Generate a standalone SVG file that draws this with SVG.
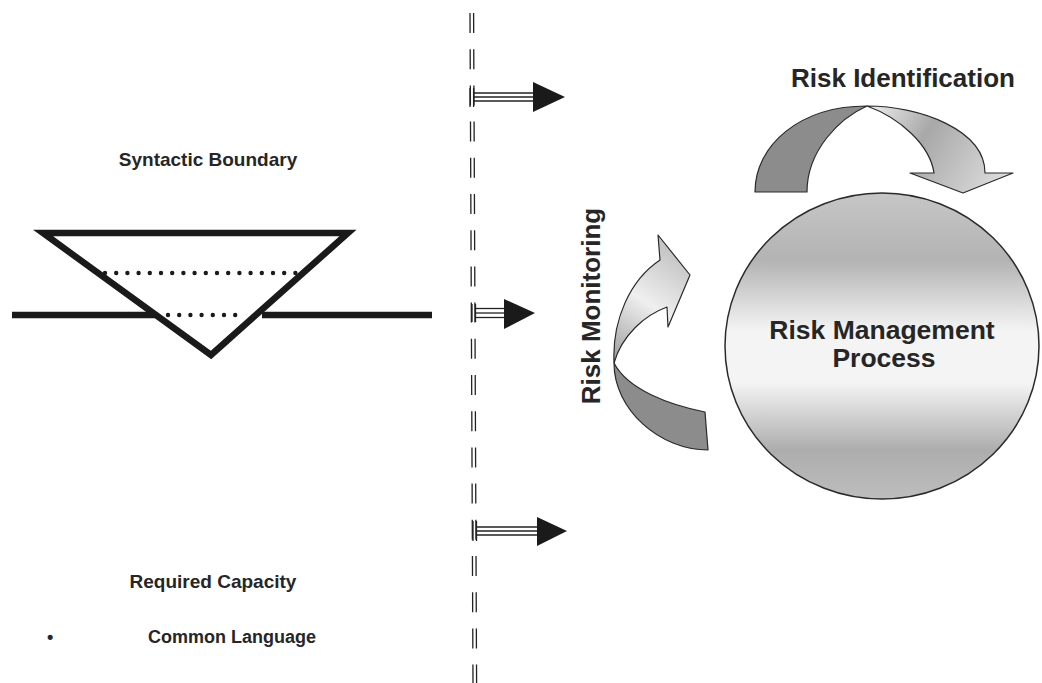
<svg xmlns="http://www.w3.org/2000/svg" width="1042" height="683" viewBox="0 0 1042 683">
  <style>
    .lbl { font-family: "Liberation Sans", Arial, Helvetica, sans-serif; font-weight: bold; fill: #262626; }
    .thick { fill: none; stroke: #1a1a1a; stroke-width: 6.5; }
    .dots { fill: none; stroke: #1a1a1a; stroke-width: 4.4; stroke-linecap: round; stroke-dasharray: 0 11.2; }
    .rail { fill: none; stroke: #222; stroke-width: 1.3; }
    .head { fill: #1a1a1a; stroke: none; }
    .ribbon { stroke: #2a2a2a; stroke-width: 1.2; stroke-linejoin: round; }
  </style>
  <defs>
    <linearGradient id="sphereFill" x1="0" y1="0" x2="0" y2="1">
      <stop offset="0" stop-color="#c6c6c6"/>
      <stop offset="0.22" stop-color="#b3b3b3"/>
      <stop offset="0.45" stop-color="#f4f4f4"/>
      <stop offset="0.62" stop-color="#f4f4f4"/>
      <stop offset="0.84" stop-color="#adadad"/>
      <stop offset="1" stop-color="#bdbdbd"/>
    </linearGradient>
    <linearGradient id="identLight" gradientUnits="userSpaceOnUse" x1="867" y1="106" x2="1005" y2="190">
      <stop offset="0" stop-color="#f0f0f0"/>
      <stop offset="0.4" stop-color="#a8a8a8"/>
      <stop offset="1" stop-color="#e0e0e0"/>
    </linearGradient>
    <linearGradient id="monitorLight" gradientUnits="userSpaceOnUse" x1="614" y1="363" x2="690" y2="250">
      <stop offset="0" stop-color="#9c9c9c"/>
      <stop offset="0.5" stop-color="#efefef"/>
      <stop offset="1" stop-color="#bcbcbc"/>
    </linearGradient>
  </defs>

  <rect width="1042" height="683" fill="#ffffff"/>

  <!-- left column: boundary symbol and captions -->
  <g id="syntactic-boundary">
    <text class="lbl" x="208" y="166" font-size="19" text-anchor="middle">Syntactic Boundary</text>
    <!-- ground line, interrupted inside the triangle -->
    <line class="thick" x1="12" y1="315" x2="155" y2="315"/>
    <line class="thick" x1="262" y1="315" x2="432" y2="315"/>
    <polygon class="thick" points="43,233 348,233 211,355" stroke-linejoin="miter"/>
    <line class="dots" x1="105" y1="273" x2="295.4" y2="273"/>
    <line class="dots" x1="168" y1="315" x2="246.4" y2="315"/>
  </g>

  <g id="required-capacity">
    <text class="lbl" x="213" y="588" font-size="19" text-anchor="middle">Required Capacity</text>
    <text class="lbl" x="47" y="643" font-size="18">•</text>
    <text class="lbl" x="148" y="643" font-size="18">Common Language</text>
  </g>

  <!-- divider and the three transfer arrows -->
  <g id="connectors">
    <g id="divider">
      <line class="rail" x1="470" y1="13" x2="473" y2="683" stroke-dasharray="20 16.2"/>
      <line class="rail" x1="473.6" y1="13" x2="476.6" y2="683" stroke-dasharray="20 16.2"/>
    </g>
    <g id="arrow-top">
      <line class="rail" x1="470" y1="88" x2="470" y2="107"/>
      <line class="rail" x1="473.6" y1="88" x2="473.6" y2="107"/>
      <line class="rail" x1="474" y1="93" x2="535" y2="93"/>
      <line class="rail" x1="474" y1="97" x2="535" y2="97"/>
      <line class="rail" x1="474" y1="101" x2="535" y2="101"/>
      <polygon class="head" points="533,82 565,97 533,112"/>
    </g>
    <g id="arrow-mid">
      <line class="rail" x1="472" y1="304" x2="472" y2="322"/>
      <line class="rail" x1="475.5" y1="304" x2="475.5" y2="322"/>
      <line class="rail" x1="476" y1="308.5" x2="505" y2="308.5"/>
      <line class="rail" x1="476" y1="313" x2="505" y2="313"/>
      <line class="rail" x1="476" y1="317.5" x2="505" y2="317.5"/>
      <polygon class="head" points="504,299 535,313 504,329"/>
    </g>
    <g id="arrow-bottom">
      <line class="rail" x1="473" y1="521" x2="473" y2="541"/>
      <line class="rail" x1="476.5" y1="521" x2="476.5" y2="541"/>
      <line class="rail" x1="477" y1="527" x2="538" y2="527"/>
      <line class="rail" x1="477" y1="531" x2="538" y2="531"/>
      <line class="rail" x1="477" y1="535" x2="538" y2="535"/>
      <polygon class="head" points="537,517 567,531 537,546"/>
    </g>
  </g>

  <!-- right side: process cycle -->
  <g id="risk-management-process">
    <ellipse cx="882" cy="346" rx="157" ry="153" fill="url(#sphereFill)" stroke="#2a2a2a" stroke-width="1.5"/>
    <text class="lbl" x="882" y="339" font-size="26.5" text-anchor="middle">Risk Management</text>
    <text class="lbl" x="884" y="367" font-size="26.5" text-anchor="middle">Process</text>
  </g>

  <g id="risk-identification">
    <text class="lbl" x="791" y="87" font-size="26">Risk Identification</text>
    <path class="ribbon" fill="#8c8c8c" d="M755,192 C755,145 800,106 867,106 C840,118 807,150 807,192 Z"/>
    <path class="ribbon" fill="url(#identLight)" d="M867,106 C920,106 985,130 985,173 L1013,173 L963,193 L910,173 L934,173 C930,145 900,118 867,106 Z"/>
  </g>

  <g id="risk-monitoring">
    <text class="lbl" transform="translate(600,306) rotate(-90)" font-size="26" text-anchor="middle">Risk Monitoring</text>
    <path class="ribbon" fill="#8c8c8c" d="M614,363 C614,410 660,450 708,450 L705,412 C670,405 628,390 614,363 Z"/>
    <path class="ribbon" fill="url(#monitorLight)" d="M614,363 C612,320 630,280 660,260 L658,235 L690,275 L668,327 L667,307 C645,315 622,335 614,363 Z"/>
  </g>
</svg>
